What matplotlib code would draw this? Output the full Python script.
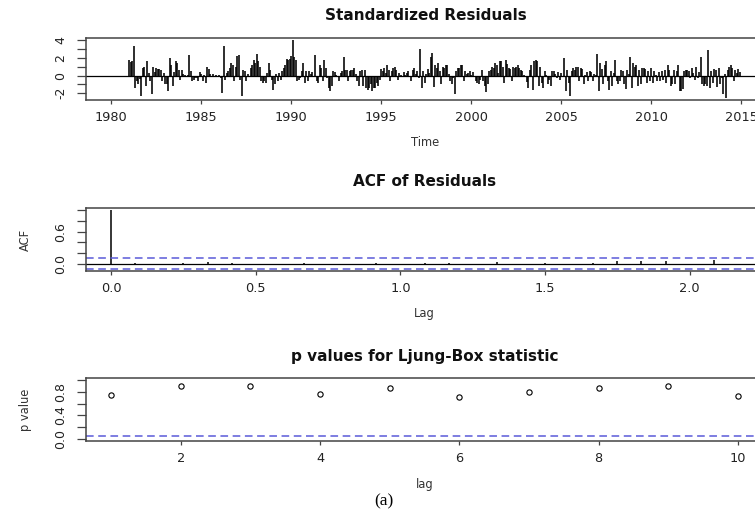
import numpy as np
import matplotlib.pyplot as plt

# standardized residuals, monthly from Jan 1980 (first year is zero after seasonal differencing)
res_1980s = [0.0] * 12 + [
    1.8, 1.5, 1.6, 3.4, -1.4, -0.6, -1.0, -0.4, -2.3, 0.85, 1.0, -1.2,
    1.6, 0.3, -0.6, -2.1, 1.0, 0.4, 0.85, 0.7, 0.75, 0.6, -0.6, 0.3,
    -1.0, -1.0, -1.7, 2.0, 1.2, -1.2, 0.4, 1.7, 1.4, 0.65, -0.45, 0.6,
    0.2, 0.1, -0.2, 0.1, 2.3, 0.5, -0.6, -0.45, -0.3, -0.3, -0.6, 0.37,
    0.2, -0.6, 0.1, -0.8, 1.0, 0.7, 0.2, -0.1, 0.15, -0.2, 0.1, -0.15,
    0.05, -0.3, -2.0, 3.4, -0.45, 0.3, 0.5, 0.85, 1.4, 1.2, -0.6, 1.0,
    2.2, 2.3, -0.5, -2.3, 0.65, 0.5, -0.6, 0.2, -0.2, 0.85, 1.2, 1.8,
    1.4, 2.5, 1.6, 1.0, -0.6, -0.8, -0.6, -0.8, 0.3, 1.4, 0.65, -0.45,
    -1.6, -1.0, 0.2, -0.6, 0.3, -0.45, 0.5, 0.85, 1.2, 1.85, 1.75, 1.85,
]
res_1990s = [
    2.2, 4.0, 2.1, 1.8, -0.6, -0.45, -0.3, 0.5, 1.4, -0.8, 0.55, -0.6,
    0.5, 0.2, 0.37, -0.2, 2.3, -0.6, -0.8, 1.2, 0.85, -0.6, 1.8, 0.9,
    -0.3, -1.4, -1.7, -1.2, 0.55, 0.37, 0.1, -0.2, -0.6, 0.3, 0.5, 2.1,
    0.65, 0.6, -0.6, 0.55, 0.65, 0.65, 0.85, 0.2, -0.6, -1.2, 0.5, 0.6,
    -1.2, 0.65, -1.4, -1.6, -1.4, -1.0, -1.7, -1.4, -1.4, -0.8, -1.2, -0.5,
    0.7, 0.5, 0.85, 0.3, 1.2, 0.65, -0.6, 0.55, 0.85, 1.0, 0.65, -0.45,
    0.3, 0.1, -0.2, 0.37, 0.1, 0.3, 0.5, -0.2, -0.6, 0.65, 0.85, 0.2,
    0.5, -0.3, 3.0, -1.4, 0.5, -0.8, 0.2, 0.75, 0.3, 2.15, 2.6, -1.3,
    1.2, 0.85, 1.4, 0.5, -1.0, 1.0, 0.85, 1.2, 1.2, 0.2, -0.6, -1.0,
    -0.3, -2.1, 0.5, 0.85, 0.85, 1.2, 1.2, -0.6, 0.5, 0.2, 0.3, 0.5,
]
res_2000s = [
    0.1, 0.37, -0.2, -0.6, -0.8, -1.0, -0.45, 0.6, -0.6, -1.2, -1.9, -1.0,
    0.5, 0.65, 1.0, 0.85, 1.4, 1.2, 0.3, 1.7, 1.6, 1.0, -0.8, 1.8,
    1.3, 0.85, 0.75, -0.6, 1.0, 0.85, 1.0, 1.2, 0.85, 0.65, 0.5, 0.1,
    -0.2, -0.7, -1.4, 0.65, 1.2, -1.6, 1.6, 1.8, 1.6, -1.2, 1.0, -0.8,
    -1.4, 0.5, 0.1, -1.0, -0.45, -1.2, 0.5, 0.5, 0.2, -0.3, 0.4, -0.5,
    0.3, -0.2, 2.0, -1.7, 0.65, -0.8, -2.3, 0.5, 0.85, 0.65, 1.0, 1.0,
    -0.6, 0.85, 0.75, -1.0, 0.1, 0.37, -0.6, 0.5, 0.37, -0.6, 0.2, 0.1,
    2.4, -1.7, 1.4, 0.75, -1.0, 1.2, 1.6, -0.6, -1.6, 0.5, -1.2, 0.3,
    1.8, -0.6, -1.0, -0.6, 0.65, 0.5, -1.0, -1.55, 0.65, 0.2, 2.1, -1.4,
    1.4, 1.0, 1.2, -1.2, 0.65, -1.0, 0.85, 0.85, 0.75, -0.8, 0.5, -0.6,
]
res_2010s = [
    0.85, -0.8, 0.5, 0.1, -0.6, 0.37, -0.6, 0.5, -0.45, 0.65, -0.8, 1.2,
    0.65, -1.2, -1.0, 0.6, -1.0, 0.5, 1.2, -1.7, -1.7, -1.5, 0.5, 0.65,
    0.65, 0.5, -0.3, 0.85, 0.3, -0.5, 1.0, -0.3, 0.4, 2.15, -1.0, -1.2,
    -1.0, -1.2, 2.9, -1.4, 0.5, -0.8, 0.75, 0.65, -1.3, 0.85, -1.0, -0.3,
    -2.1, 0.2, -2.5, 0.65, 1.0, 1.2, 0.85, -0.6, 0.65, 0.3, 0.75, 0.4,
]

# ACF of residuals, lags 0..26 months (in years)
acf_vals = [1.0, 0.01, -0.01, 0.02, 0.03, 0.01, -0.03, 0.0, 0.01, -0.01,
            -0.03, 0.01, -0.02, 0.02, 0.01, -0.02, 0.03, 0.0, 0.01, -0.01,
            0.02, 0.05, 0.04, 0.04, -0.02, 0.06, -0.02]

# Ljung-Box p values
lb_lags = [1, 2, 3, 4, 5, 6, 7, 8, 9, 10]
lb_pvals = [0.75, 0.91, 0.91, 0.765, 0.87, 0.72, 0.80, 0.87, 0.90, 0.725]

residuals = np.array(res_1980s + res_1990s + res_2000s + res_2010s)
time = 1980 + np.arange(len(residuals)) / 12
acf_lags = np.arange(len(acf_vals)) / 12
ci = 1.96 / np.sqrt(len(residuals))

BLUE = '#5a5ad8'
W, H = 755, 515
fig = plt.figure(figsize=(W / 100, H / 100), dpi=100)


def add_axes_px(left, top, right, bottom):
    return fig.add_axes([left / W, 1 - bottom / H, (right - left) / W, (bottom - top) / H])


def r_range(lo, hi):
    d = (hi - lo) * 0.04
    return lo - d, hi + d


def style(ax, title, title_off, xlabel, ylabel=None):
    for s in ax.spines.values():
        s.set_color('#444444')
        s.set_linewidth(1.1)
    ax.tick_params(axis='x', length=3, width=0.9, pad=5, labelsize=9.3,
                   colors='#444444', labelcolor='#222222')
    ax.tick_params(axis='y', length=6.5, width=0.9, pad=7, labelsize=9,
                   colors='#444444', labelcolor='#222222', labelrotation=90)
    for lab in ax.get_yticklabels():
        lab.set_va('center')
    h = ax.get_position().height * H
    w = ax.get_position().width * W
    ax.text(0.5, 1 + title_off / h, title, transform=ax.transAxes,
            ha='center', va='center', fontsize=11, fontweight='bold', color='#111111')
    ax.set_xlabel(xlabel, fontsize=8.3, color='#333333')
    ax.xaxis.set_label_coords(0.5, -43 / h)
    ax.xaxis.label.set_va('center')
    if ylabel:
        ax.set_ylabel(ylabel, fontsize=8.3, color='#333333')
        ax.yaxis.set_label_coords(-61 / w, 0.5)
        ax.yaxis.label.set_va('center')


# standardized residuals
ax1 = add_axes_px(86, 38, 765, 100)
ax1.vlines(time, 0, residuals, color='black', lw=1.15)
ax1.axhline(0, color='black', lw=0.9)
ax1.set_xlim(*r_range(time[0], time[-1]))
ax1.set_ylim(*r_range(residuals.min(), residuals.max()))
ax1.set_xticks(np.arange(1980, 2016, 5))
ax1.set_yticks(np.arange(-2, 5))
ax1.set_yticklabels(['-2', '', '0', '', '2', '', '4'])
style(ax1, 'Standardized Residuals', 23, 'Time')

# ACF
ax2 = add_axes_px(86, 208, 763, 271)
ax2.vlines(acf_lags, 0, acf_vals, color='black', lw=1.1)
ax2.axhline(0, color='black', lw=0.9)
for c in (ci, -ci):
    ax2.axhline(c, color=BLUE, lw=1.1, linestyle=(0, (5, 3)))
ax2.set_xlim(*r_range(acf_lags[0], acf_lags[-1]))
ax2.set_ylim(*r_range(-ci, 1.0))
ax2.set_xticks([0.0, 0.5, 1.0, 1.5, 2.0])
ax2.set_xticklabels(['0.0', '0.5', '1.0', '1.5', '2.0'])
ax2.set_yticks(np.arange(0, 1.01, 0.2))
ax2.set_yticklabels(['0.0', '', '', '0.6', '', ''])
style(ax2, 'ACF of Residuals', 26, 'Lag', 'ACF')

# Ljung-Box p values
ax3 = add_axes_px(86, 378, 763, 441)
ax3.plot(lb_lags, lb_pvals, 'o', mfc='none', mec='black', ms=3.8, mew=0.8)
ax3.axhline(0.05, color=BLUE, lw=1.1, linestyle=(0, (5, 3)))
ax3.set_xlim(*r_range(1, 10))
ax3.set_ylim(*r_range(0, 1))
ax3.set_xticks([2, 4, 6, 8, 10])
ax3.set_yticks(np.arange(0, 1.01, 0.2))
ax3.set_yticklabels(['0.0', '', '0.4', '', '0.8', ''])
style(ax3, 'p values for Ljung-Box statistic', 21, 'lag', 'p value')

fig.text(384 / W, 1 - 501 / H, '(a)', ha='center', va='center',
         fontsize=12.5, family='Liberation Serif', color='black')

fig.savefig('out.png', dpi=100)
